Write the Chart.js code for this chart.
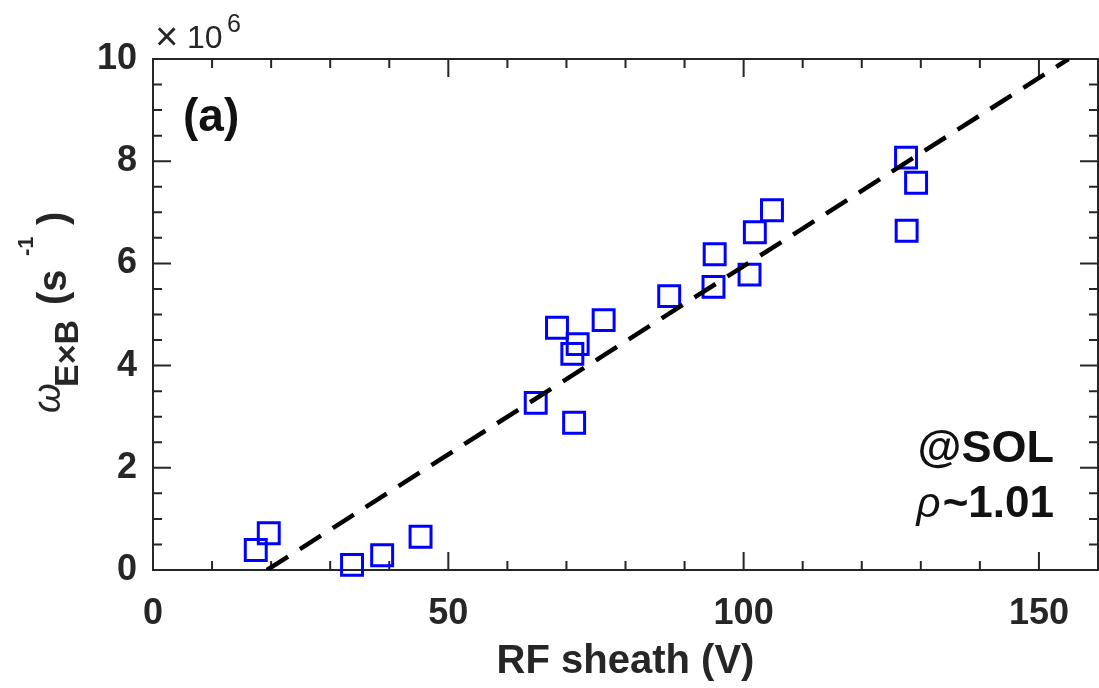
<!DOCTYPE html>
<html>
<head>
<meta charset="utf-8">
<script src="https://cdn.jsdelivr.net/npm/chart.js@4.4.0/dist/chart.umd.min.js"></script>
<style>
  html, body { margin: 0; padding: 0; background: #fff; overflow: hidden; }
</style>
</head>
<body>
<canvas id="chart" width="1099" height="688"></canvas>
<script>
// -- DATA (omega in units of 1e6 s^-1)
const sheathV  = [17.4, 19.6, 33.7, 38.8, 45.3, 64.8, 68.4, 71.9, 71.0, 76.3, 71.3, 87.4, 94.9, 95.1, 101.0, 101.9, 104.8, 127.5, 129.2, 127.6];
const omegaExB = [0.39, 0.72, 0.10, 0.29, 0.65, 3.27, 4.74, 4.42, 4.23, 4.89, 2.88, 5.36, 5.54, 6.18, 5.78, 6.61, 7.04, 8.07, 7.58, 6.64];
const fitV     = [19.3, 155];
const fitOmega = [0, 10];
const xTicks   = [0, 50, 100, 150];
const yTicks   = [0, 2, 4, 6, 8, 10];
const xMinor   = [10, 20, 30, 40, 60, 70, 80, 90, 110, 120, 130, 140];
const yMinor   = [0.5, 1, 1.5, 2.5, 3, 3.5, 4.5, 5, 5.5, 6.5, 7, 7.5, 8.5, 9, 9.5];

const AXIS = '#262626';
const SANS = '"Liberation Sans", Arial, sans-serif';

// -- FRAME + INWARD TICKS (matlab style box)
const framePlugin = {
  id: 'frame',
  beforeDatasetsDraw(chart) {
    const { ctx, chartArea: a, scales: { x, y } } = chart;
    ctx.save();
    ctx.strokeStyle = AXIS;
    ctx.lineWidth = 2;
    ctx.strokeRect(a.left, a.top, a.right - a.left, a.bottom - a.top);
    ctx.beginPath();
    const xt = (v, len) => {
      const px = x.getPixelForValue(v);
      ctx.moveTo(px, a.bottom); ctx.lineTo(px, a.bottom - len);
      ctx.moveTo(px, a.top);    ctx.lineTo(px, a.top + len);
    };
    const yt = (v, len) => {
      const py = y.getPixelForValue(v);
      ctx.moveTo(a.left, py);  ctx.lineTo(a.left + len, py);
      ctx.moveTo(a.right, py); ctx.lineTo(a.right - len, py);
    };
    xTicks.forEach(v => xt(v, 18));
    xMinor.forEach(v => xt(v, 9));
    yTicks.forEach(v => yt(v, 18));
    yMinor.forEach(v => yt(v, 9));
    ctx.stroke();
    ctx.restore();
  },
  afterDraw(chart) {
    const { ctx, chartArea: a } = chart;
    ctx.save();
    ctx.fillStyle = AXIS;
    ctx.textBaseline = 'alphabetic';

    // exponent
    ctx.textAlign = 'left';
    ctx.font = '40px ' + SANS;
    ctx.fillText('\u00d7', 155, 50);
    ctx.font = '32px ' + SANS;
    ctx.fillText('10', 187, 48);
    ctx.font = '25px ' + SANS;
    ctx.fillText('6', 227, 32);

    // x label
    ctx.textAlign = 'center';
    ctx.font = 'bold 40px ' + SANS;
    ctx.fillText('RF sheath (V)', (a.left + a.right) / 2, 673);

    // y label, rotated
    ctx.save();
    ctx.translate(66, 413);
    ctx.rotate(-Math.PI / 2);
    ctx.textAlign = 'left';
    ctx.font = 'italic 38px ' + SANS;
    ctx.fillText('\u03c9', 0, -6);
    ctx.font = 'bold 34px ' + SANS;
    ctx.fillText('E\u00d7B', 26, 12);
    ctx.font = 'bold 40px ' + SANS;
    ctx.fillText('(s', 108, 0);
    ctx.font = 'bold 22px ' + SANS;
    ctx.fillText('-1', 157, -33);
    ctx.font = 'bold 40px ' + SANS;
    ctx.fillText(')', 188, 0);
    ctx.restore();

    // annotations
    ctx.fillStyle = '#111';
    ctx.textAlign = 'left';
    ctx.font = 'bold 46px ' + SANS;
    ctx.fillText('(a)', 183, 131);
    ctx.textAlign = 'right';
    ctx.font = 'bold 45px ' + SANS;
    ctx.fillText('@SOL', 1054, 462);
    ctx.font = 'bold 44px ' + SANS;
    const numW = ctx.measureText('~1.01').width;
    ctx.fillText('~1.01', 1054, 517);
    ctx.font = 'italic 42px ' + SANS;
    ctx.fillText('\u03c1', 1054 - numW - 2, 517);
    ctx.restore();
  }
};

const ctx = document.getElementById('chart').getContext('2d');
new Chart(ctx, {
  type: 'scatter',
  data: {
    datasets: [
      {
        label: 'fit',
        data: fitV.map((v, i) => ({ x: v, y: fitOmega[i] })),
        showLine: true,
        borderColor: '#000', borderWidth: 4.5, borderDash: [25, 14],
        pointRadius: 0, fill: false
      },
      {
        label: 'measured',
        data: sheathV.map((v, i) => ({ x: v, y: omegaExB[i] })),
        pointStyle: 'rect', pointRadius: 14.8,
        borderColor: '#0000ff', borderWidth: 3,
        backgroundColor: 'rgba(0,0,0,0)',
        clip: false
      }
    ]
  },
  options: {
    responsive: false, animation: false,
    layout: { autoPadding: false, padding: { top: 59, right: 1, left: 0, bottom: 0 } },
    plugins: { legend: { display: false }, tooltip: { enabled: false } },
    scales: {
      x: {
        type: 'linear', min: 0, max: 160,
        afterBuildTicks: s => { s.ticks = xTicks.map(v => ({ value: v })); },
        afterFit: s => { s.height = 118; s.paddingLeft = 0; s.paddingRight = 0; },
        grid: { display: false, drawTicks: false }, border: { display: false },
        ticks: { font: { size: 36, weight: 'bold', family: SANS }, color: AXIS, padding: 22, maxRotation: 0 }
      },
      y: {
        type: 'linear', min: 0, max: 10,
        afterBuildTicks: s => { s.ticks = yTicks.map(v => ({ value: v })); },
        afterFit: s => { s.width = 153; s.paddingTop = 0; s.paddingBottom = 0; },
        grid: { display: false, drawTicks: false }, border: { display: false },
        ticks: { font: { size: 36, weight: 'bold', family: SANS }, color: AXIS, padding: 16 }
      }
    }
  },
  plugins: [framePlugin]
});
</script>
</body>
</html>
